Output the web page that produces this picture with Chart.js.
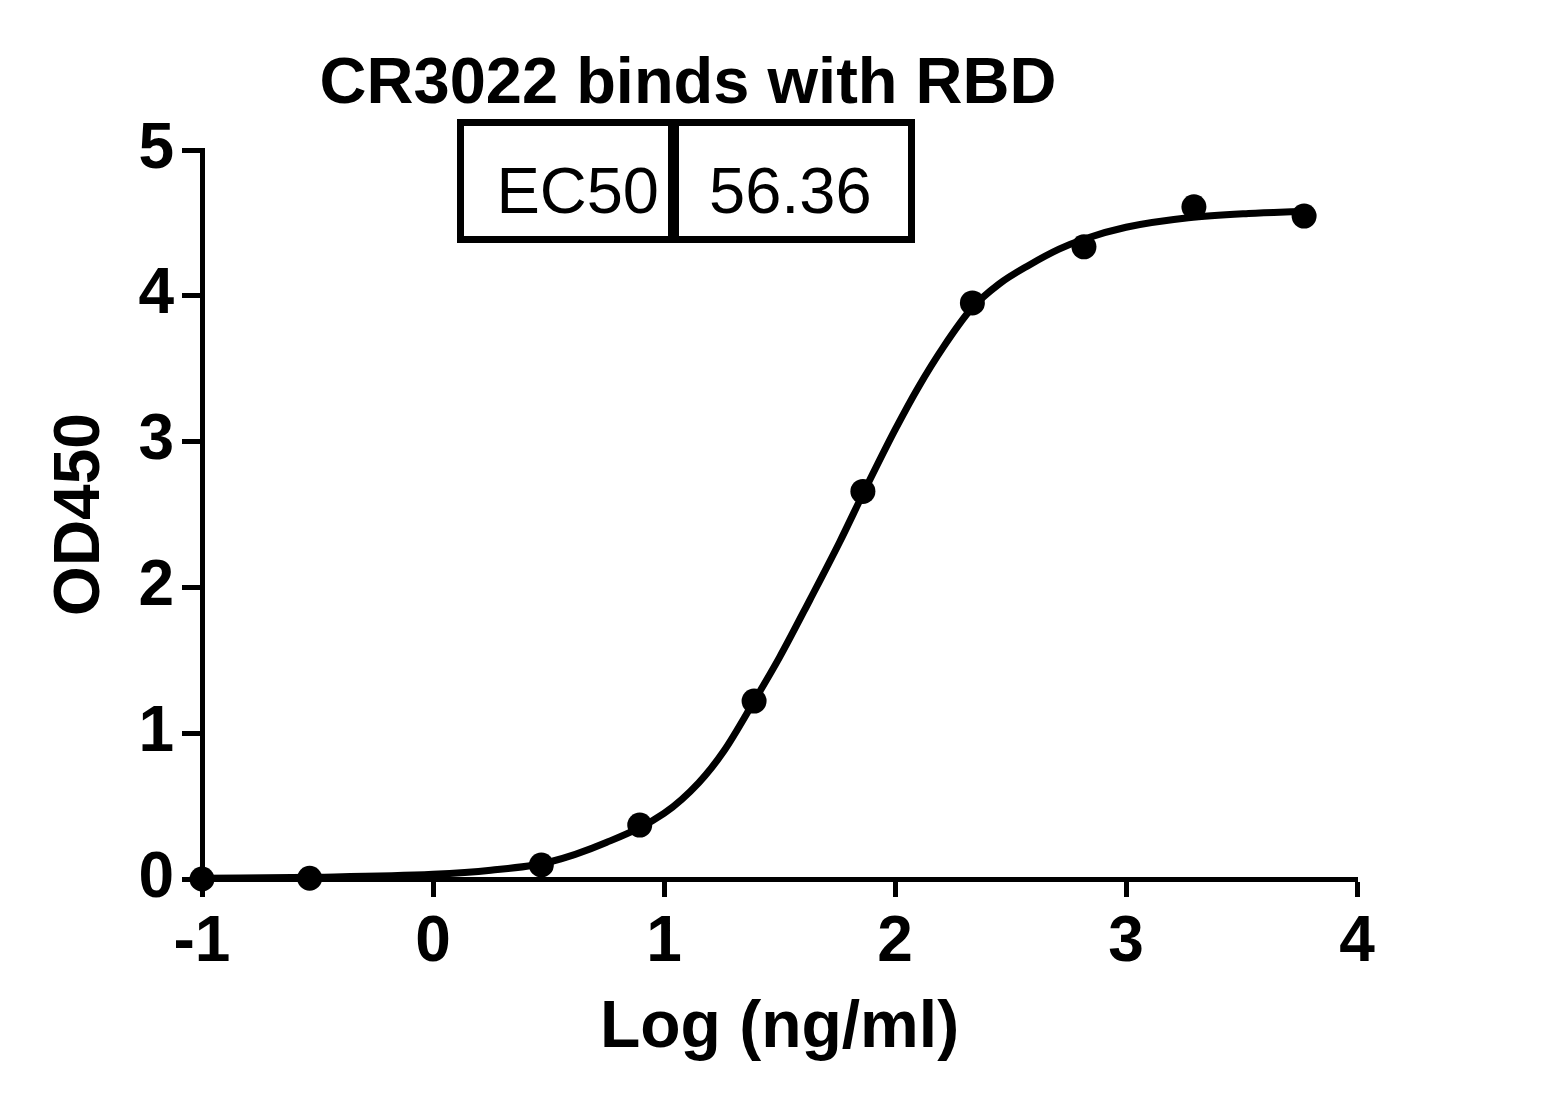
<!DOCTYPE html>
<html>
<head>
<meta charset="utf-8">
<title>CR3022 binds with RBD</title>
<script src="https://cdn.jsdelivr.net/npm/chart.js@4/dist/chart.umd.min.js"></script>
<style>
  html, body { margin: 0; padding: 0; background: #fff; }
</style>
</head>
<body>
<canvas id="odChart" width="1556" height="1109"></canvas>
<script>
// measured points: log10 concentration (ng/ml) vs OD450
const logConc = [-1.0, -0.534, 0.469, 0.895, 1.39, 1.861, 2.335, 2.818, 3.294, 3.771];
const od450 = [0.0, 0.005, 0.096, 0.37, 1.22, 2.658, 3.951, 4.336, 4.61, 4.547];

// fitted curve
const curveX = [-1.0, -0.5, 0.0, 0.25, 0.5, 0.75, 1.0, 1.15, 1.26, 1.39, 1.5, 1.63, 1.76, 1.87, 2.0, 2.1, 2.21, 2.33, 2.45, 2.58, 2.71, 2.82, 3.0, 3.27, 3.53, 3.77];
const curveY = [0.005, 0.012, 0.032, 0.06, 0.115, 0.25, 0.45, 0.66, 0.88, 1.22, 1.52, 1.91, 2.31, 2.67, 3.08, 3.37, 3.65, 3.91, 4.08, 4.21, 4.32, 4.39, 4.47, 4.535, 4.565, 4.58];

const xTicks = [-1, 0, 1, 2, 3, 4];
const yTicks = [0, 1, 2, 3, 4, 5];

const chartTitle = "CR3022 binds with RBD";
const ec50Label = "EC50";
const ec50Value = "56.36";

const FONT = '"Liberation Sans", Arial, sans-serif';

// title + EC50 box drawn on top of the chart
const headerPlugin = {
  id: "header",
  afterDraw(chart) {
    const ctx = chart.ctx;
    ctx.save();
    ctx.fillStyle = "#000";
    ctx.strokeStyle = "#000";
    ctx.textBaseline = "alphabetic";

    ctx.font = "bold 65px " + FONT;
    ctx.textAlign = "center";
    ctx.fillText(chartTitle, 688, 103);

    ctx.lineWidth = 7;
    ctx.strokeRect(460.5, 122.5, 211, 117);
    ctx.strokeRect(675.5, 122.5, 236, 117);

    ctx.font = "65px " + FONT;
    ctx.textAlign = "right";
    ctx.fillText(ec50Label, 659, 213);
    ctx.textAlign = "left";
    ctx.fillText(ec50Value, 709, 213);
    ctx.restore();
  }
};

const tickFont = { family: FONT, size: 64, weight: "bold" };

new Chart(document.getElementById("odChart"), {
  type: "scatter",
  data: {
    datasets: [
      {
        label: "fit",
        data: curveX.map((x, i) => ({ x: x, y: curveY[i] })),
        showLine: true,
        pointRadius: 0,
        borderColor: "#000",
        borderWidth: 7,
        cubicInterpolationMode: "monotone",
        fill: false,
        clip: false
      },
      {
        label: "OD450",
        data: logConc.map((x, i) => ({ x: x, y: od450[i] })),
        showLine: false,
        pointRadius: 12.5,
        pointBackgroundColor: "#000",
        pointBorderWidth: 0,
        clip: false
      }
    ]
  },
  options: {
    responsive: false,
    animation: false,
    devicePixelRatio: 1,
    layout: { padding: { left: 0, top: 150, right: 199, bottom: 0 } },
    plugins: {
      legend: { display: false },
      tooltip: { enabled: false },
      title: { display: false }
    },
    scales: {
      x: {
        type: "linear",
        position: "bottom",
        min: -1,
        max: 4,
        afterBuildTicks: (s) => { s.ticks = xTicks.map(v => ({ value: v })); },
        afterFit: (s) => { s.height = 230; },
        grid: { drawOnChartArea: false, drawTicks: true, tickLength: 18, tickWidth: 5, tickColor: "#000" },
        border: { display: true, width: 5, color: "#000" },
        ticks: { font: tickFont, color: "#000", padding: 8, maxRotation: 0, autoSkip: false },
        title: {
          display: true,
          text: "Log (ng/ml)",
          color: "#000",
          font: { family: FONT, size: 66, weight: "bold" },
          padding: { top: 0, bottom: 41 }
        }
      },
      y: {
        type: "linear",
        position: "left",
        min: 0,
        max: 5,
        afterBuildTicks: (s) => { s.ticks = yTicks.map(v => ({ value: v })); },
        afterFit: (s) => { s.width = 202; },
        grid: { drawOnChartArea: false, drawTicks: true, tickLength: 20, tickWidth: 5, tickColor: "#000" },
        border: { display: true, width: 5, color: "#000" },
        ticks: { font: tickFont, color: "#000", padding: 8, autoSkip: false },
        title: {
          display: true,
          text: "OD450",
          color: "#000",
          font: { family: FONT, size: 64, weight: "bold" },
          padding: { top: 43, bottom: 0 }
        }
      }
    }
  },
  plugins: [headerPlugin]
});
</script>
</body>
</html>
